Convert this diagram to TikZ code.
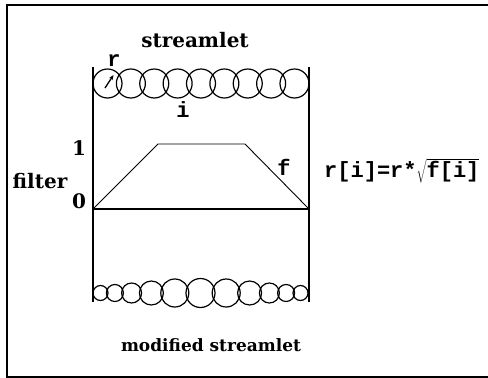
\documentclass[tikz,border=0pt]{standalone}
\usepackage{fontspec}
\setmainfont{DejaVu Serif}
\setmonofont{Liberation Mono}
\usetikzlibrary{arrows.meta}
\tikzset{
  frame/.style={line width=2pt},
  wall/.style={line width=1.8pt},
  bubble/.style={line width=1.2pt},
  curve/.style={line width=0.9pt},
  serif/.style={font=\fontsize{20}{20}\selectfont\bfseries, inner sep=0pt},
  serifsmall/.style={font=\fontsize{17}{17}\selectfont\bfseries, inner sep=0pt},
  code/.style={font=\fontsize{22}{22}\ttfamily\bfseries, inner sep=0pt}
}
\begin{document}
\begin{tikzpicture}[x=1pt,y=-1pt]
\useasboundingbox (0,0) rectangle (488,378);
\fill[white] (0,0) rectangle (488,378);
% frame
\draw[frame] (488,5) -- (7,5) -- (7,377) -- (488,377);
% walls
\coordinate (wlt) at (93,67);
\coordinate (wlb) at (93,302);
\coordinate (wrt) at (309,67);
\coordinate (wrb) at (309,302);
\draw[wall] (wlt) -- (wlb);
\draw[wall] (wrt) -- (wrb);
% top streamlet circles
\foreach \k in {0,...,8}{
  \draw[bubble] ({107.5+23.375*\k},83.5) circle[radius=14.5];
}
% radius arrow
\coordinate (ra) at (105,88);
\coordinate (rb) at (113.5,75);
\draw[line width=1.3pt,-{Stealth[length=5pt,width=4pt]}] (ra) -- (rb);
% bottom modified streamlet circles
\foreach \cx/\rr in {100.5/7.5,114.9/8.5,131.6/10,151.4/12,174.8/14,200.5/14.5,226.2/14,249.6/12,269.4/10,286.1/8.5,300.5/7.5}{
  \draw[bubble] (\cx,293) circle[radius=\rr];
}
% filter
\coordinate (f0) at (93,209);
\coordinate (f1) at (158,144);
\coordinate (f2) at (245,144);
\coordinate (f3) at (309,209);
\draw[line width=1.8pt] (f0) -- (f3);
\draw[curve] (f0) -- (f1) -- (f2) -- (f3);
% labels
\node[serif] (title) at (195,40) {streamlet};
\node[serifsmall] (mod) at (211,345) {modified streamlet};
\node[serif] (filt) at (40,181) {filter};
\node[serif] (one) at (79,148) {1};
\node[serif] (zero) at (79,201) {0};
\node[code] (rl) at (114,61) {r};
\node[code] (il) at (183,110) {i};
\node[code] (fl) at (284,167) {f};
\node[code, anchor=west] (eq) at (324,171) {r[i]=r*$\sqrt{\mbox{\fontsize{22}{22}\ttfamily\bfseries f[i]}}$};
\end{tikzpicture}
\end{document}
